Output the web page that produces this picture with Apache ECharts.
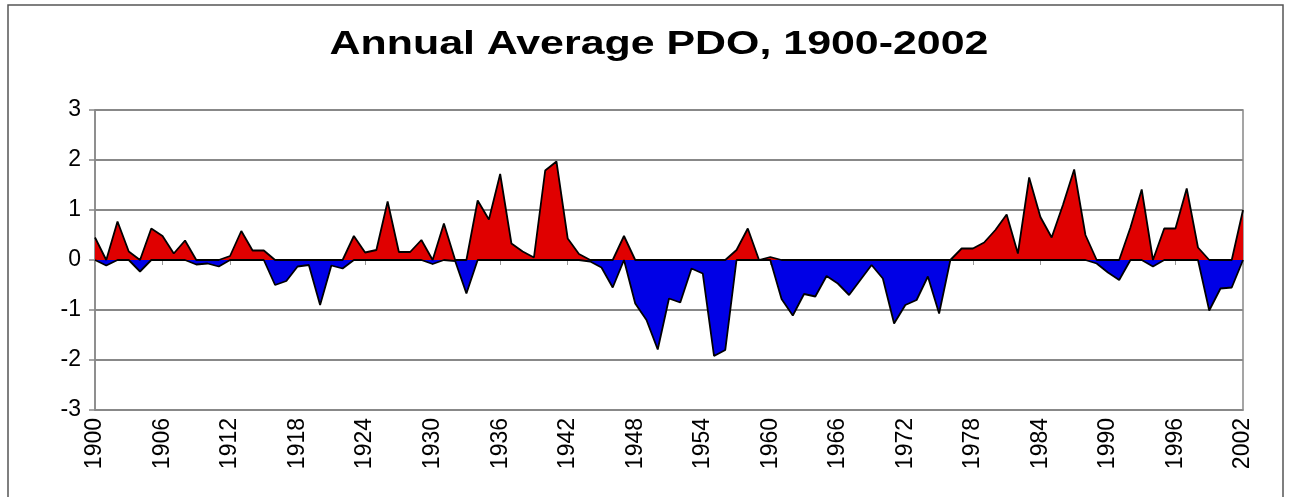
<!DOCTYPE html>
<html>
<head>
<meta charset="utf-8">
<script src="https://cdn.jsdelivr.net/npm/echarts@6/dist/echarts.min.js"></script>
<style>
  html, body { margin: 0; padding: 0; background: #fff; }
  #chart { width: 1295px; height: 497px; }
</style>
</head>
<body>
<div id="chart"></div>
<script>
// years 1900..2002
const years = [];
for (let y = 1900; y <= 2002; y++) years.push(String(y));

// annual average PDO
const pdo = [
  0.45, -0.11, 0.77, 0.17, -0.23, 0.63, 0.48, 0.13, 0.39, -0.09,   // 1900-1909
  -0.07, -0.13, 0.08, 0.58, 0.19, 0.19, -0.5, -0.42, -0.13, -0.1,   // 1910-1919
  -0.9, -0.11, -0.17, 0.48, 0.15, 0.2, 1.17, 0.16, 0.16, 0.4,       // 1920-1929
  -0.08, 0.73, -0.02, -0.67, 1.19, 0.81, 1.72, 0.33, 0.17, 0.05,    // 1930-1939
  1.79, 1.97, 0.43, 0.12, -0.03, -0.15, -0.55, 0.48, -0.87, -1.2,   // 1940-1949
  -1.79, -0.77, -0.85, -0.17, -0.27, -1.92, -1.8, 0.2, 0.63, 0.0,   // 1950-1959
  0.06, -0.78, -1.11, -0.68, -0.73, -0.32, -0.47, -0.7, -0.4, -0.1, // 1960-1969
  -0.37, -1.27, -0.9, -0.8, -0.33, -1.07, 0.0, 0.23, 0.23, 0.35,    // 1970-1979
  0.6, 0.91, 0.13, 1.65, 0.86, 0.45, 1.1, 1.81, 0.5, -0.07,         // 1980-1989
  -0.25, -0.4, 0.65, 1.41, -0.13, 0.63, 0.63, 1.43, 0.25, -1.01,    // 1990-1999
  -0.57, -0.55, 1.0                                                 // 2000-2002
];

const yTicks = [-3, -2, -1, 0, 1, 2, 3];

// split like the spreadsheet: one series for the warm part, one for the cold part
const warm = pdo.map(v => (v > 0 ? v : 0));
const cold = pdo.map(v => (v < 0 ? v : 0));

const chart = echarts.init(document.getElementById('chart'));

chart.setOption({
  backgroundColor: '#fff',
  animation: false,
  graphic: [
    {
      type: 'rect',
      shape: { x: 8, y: 5, width: 1275, height: 510 },
      style: { fill: null, stroke: '#555', lineWidth: 1.5 },
      silent: true
    },
    {
      // the original picture is stretched sideways, so is the title
      type: 'text',
      x: 659,
      y: 45,
      scaleX: 1.3,
      style: {
        text: 'Annual Average PDO, 1900-2002',
        fill: '#000',
        font: 'bold 33px "Liberation Sans", Arial, sans-serif',
        align: 'center',
        verticalAlign: 'middle'
      },
      silent: true
    }
  ],
  grid: {
    left: 95,
    right: 52,
    top: 110,
    bottom: 87,
    show: true,
    borderColor: '#888',
    borderWidth: 1.5,
    containLabel: false
  },
  xAxis: [
    {
      type: 'category',
      data: years,
      boundaryGap: false,
      axisLine: { onZero: false, lineStyle: { color: '#888', width: 1.5 } },
      axisTick: { show: false },
      axisLabel: {
        interval: 5,
        rotate: 90,
        margin: 8,
        color: '#000',
        fontFamily: 'Liberation Sans',
        fontSize: 23
      },
      splitLine: { show: false }
    },
    {
      // small tick marks sitting on the zero line
      type: 'category',
      data: years,
      position: 'bottom',
      boundaryGap: false,
      axisLine: { show: false, onZero: true },
      axisTick: { show: true, interval: 5, length: 5, lineStyle: { color: '#999', width: 1 } },
      axisLabel: { show: false },
      splitLine: { show: false }
    }
  ],
  yAxis: {
    type: 'value',
    min: yTicks[0],
    max: yTicks[yTicks.length - 1],
    interval: 1,
    axisLine: { show: true, lineStyle: { color: '#888', width: 1.5 } },
    axisTick: { show: true, length: 6, lineStyle: { color: '#888', width: 1.5 } },
    axisLabel: {
      margin: 14,
      color: '#000',
      fontFamily: 'Liberation Sans',
      fontSize: 23,
      formatter: v => String(v)
    },
    splitLine: { show: true, lineStyle: { color: '#888', width: 1.8 } }
  },
  series: [
    {
      name: 'warm',
      type: 'line',
      data: warm,
      symbol: 'none',
      lineStyle: { color: '#000', width: 1.8 },
      areaStyle: { color: '#e00000', opacity: 1 },
      z: 3
    },
    {
      name: 'cold',
      type: 'line',
      data: cold,
      symbol: 'none',
      lineStyle: { color: '#000', width: 1.8 },
      areaStyle: { color: '#0000e6', opacity: 1 },
      z: 3
    }
  ]
});

window.addEventListener('resize', () => chart.resize());
</script>
</body>
</html>
